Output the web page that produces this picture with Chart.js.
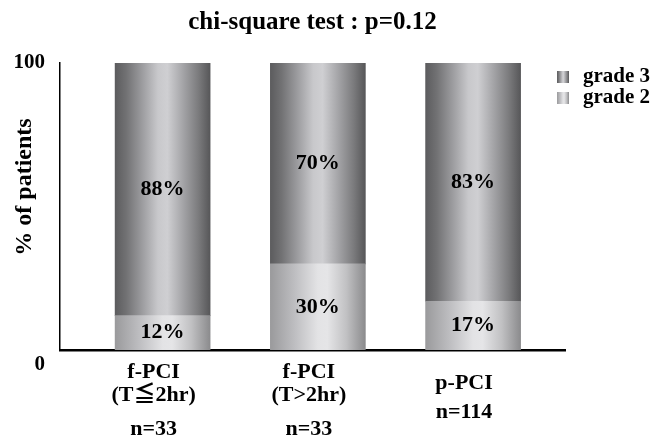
<!DOCTYPE html>
<html>
<head>
<meta charset="utf-8">
<script src="https://cdn.jsdelivr.net/npm/chart.js@4/dist/chart.umd.min.js"></script>
<style>
  html, body { margin: 0; padding: 0; background: #fff; }
  #wrap { width: 651px; height: 437px; }
</style>
</head>
<body>
<div id="wrap"><canvas id="chart" width="651" height="437"></canvas></div>
<script>
// ---- data ----
const groupNames   = ['f-PCI', 'f-PCI', 'p-PCI'];
const groupDetails = ['(T≦2hr)', '(T>2hr)', ''];
const groupSizes   = [33, 33, 114];
const grade3       = [88, 70, 83];
const grade2       = [12, 30, 17];
const seriesNames  = ['grade 3', 'grade 2'];
const yTicks       = [0, 100];
const titleText    = 'chi-square test : p=0.12';
const yTitleText   = '% of patients';

// ---- styling ----
const SERIF = '"Liberation Serif", "Times New Roman", "DejaVu Serif", "Noto Sans CJK JP", serif';
const BAR_W = 95;
const ROW = 5.75;            // sub-line unit used to space the category label rows
const LABEL_SHIFT = -0.058;  // category text sits slightly left of its bar

const shade3 = [[0, '#5c5c5e'], [0.12, '#727274'], [0.3, '#a0a0a3'], [0.45, '#c8c8cb'],
                [0.55, '#cfcfd2'], [0.7, '#a8a8ab'], [0.88, '#7a7a7c'], [1, '#575759']];
const shade2 = [[0, '#9a9a9c'], [0.25, '#bdbdc0'], [0.5, '#e3e3e5'], [0.6, '#e5e5e7'],
                [0.8, '#c1c1c3'], [1, '#8b8b8d']];

function gradientAcross(ctx2d, x0, x1, stops) {
  const g = ctx2d.createLinearGradient(x0, 0, x1, 0);
  stops.forEach(([o, c]) => g.addColorStop(o, c));
  return g;
}

function cylinderFill(stops) {
  const fallback = stops[Math.floor(stops.length / 2)][1];
  return (ctx) => {
    const xs = ctx.chart.scales.x;
    if (ctx.type !== 'data' || !xs || !ctx.chart.chartArea) return fallback;
    const cx = xs.getPixelForValue(ctx.parsed.x);
    if (!Number.isFinite(cx)) return fallback;
    return gradientAcross(ctx.chart.ctx, cx - BAR_W / 2, cx + BAR_W / 2, stops);
  };
}

function categoryLines(i) {
  const rows = groupDetails[i]
    ? [[0, groupNames[i]], [4, groupDetails[i]], [10, 'n=' + groupSizes[i]]]
    : [[2, groupNames[i]], [7, 'n=' + groupSizes[i]]];
  const lines = [];
  rows.forEach(([row, text]) => {
    while (lines.length < row) lines.push('');
    lines.push(text);
  });
  return lines;
}

const toPoints = (arr) => arr.map((v, i) => ({ x: i, y: v }));

// percentage text centred in each bar segment
const segmentLabels = {
  id: 'segmentLabels',
  afterDatasetsDraw(chart) {
    const c = chart.ctx;
    c.save();
    c.font = 'bold 22px ' + SERIF;
    c.fillStyle = '#000';
    c.textAlign = 'center';
    c.textBaseline = 'middle';
    chart.data.datasets.forEach((ds, di) => {
      chart.getDatasetMeta(di).data.forEach((bar, i) => {
        c.fillText(ds.data[i].y + '%', bar.x, (bar.y + bar.base) / 2);
      });
    });
    c.restore();
  }
};

// rotated y-axis caption
const yCaption = {
  id: 'yCaption',
  afterDraw(chart) {
    const c = chart.ctx;
    c.save();
    c.translate(25, 187);
    c.rotate(-Math.PI / 2);
    c.font = 'bold 24px ' + SERIF;
    c.fillStyle = '#000';
    c.textAlign = 'center';
    c.textBaseline = 'middle';
    c.fillText(yTitleText, 0, 0);
    c.restore();
  }
};

// key with shaded swatches
const shadedKey = {
  id: 'shadedKey',
  afterDraw(chart) {
    const c = chart.ctx;
    const entries = [[seriesNames[0], shade3], [seriesNames[1], shade2]];
    c.save();
    c.font = 'bold 21px ' + SERIF;
    c.textAlign = 'left';
    c.textBaseline = 'middle';
    entries.forEach(([name, stops], k) => {
      const cy = 77 + k * 21;
      c.fillStyle = gradientAcross(c, 557, 569, stops);
      c.fillRect(557, cy - 6, 12, 12);
      c.fillStyle = '#000';
      c.fillText(name, 583, cy);
    });
    c.restore();
  }
};

new Chart(document.getElementById('chart'), {
  type: 'bar',
  data: {
    datasets: [
      { label: seriesNames[1], data: toPoints(grade2), backgroundColor: cylinderFill(shade2),
        borderWidth: 0, barThickness: BAR_W },
      { label: seriesNames[0], data: toPoints(grade3), backgroundColor: cylinderFill(shade3),
        borderWidth: 0, barThickness: BAR_W }
    ]
  },
  options: {
    responsive: false,
    animation: false,
    devicePixelRatio: 1,
    layout: { padding: { left: 0, right: 86, top: 0, bottom: 0 } },
    plugins: {
      legend: { display: false },
      tooltip: { enabled: false },
      title: {
        display: true,
        text: titleText,
        fullSize: false,
        color: '#000',
        font: { family: SERIF, size: 25, weight: 'bold', lineHeight: 1.2 },
        padding: { top: 8, bottom: 25 }
      }
    },
    scales: {
      x: {
        type: 'linear',
        stacked: true,
        min: -0.661,
        max: 2.592,
        bounds: 'data',
        offset: false,
        grid: { display: false, drawTicks: false, offset: false },
        border: { display: true, color: '#000', width: 2.5 },
        afterBuildTicks: (scale) => {
          scale.ticks = groupNames.map((_, i) => ({ value: i + LABEL_SHIFT }));
        },
        afterFit: (scale) => { scale.height = 87; },
        ticks: {
          autoSkip: false,
          maxRotation: 0,
          minRotation: 0,
          padding: 19,
          color: '#000',
          font: { family: SERIF, size: 22, weight: 'bold', lineHeight: ROW + 'px' },
          callback: (value, index) => categoryLines(index)
        }
      },
      y: {
        stacked: true,
        min: 0,
        max: 100,
        grid: { display: false, drawTicks: false },
        border: { display: true, color: '#000', width: 1.5 },
        afterBuildTicks: (scale) => { scale.ticks = yTicks.map(v => ({ value: v })); },
        afterFit: (scale) => { scale.width = 60; },
        ticks: {
          padding: 15,
          color: '#000',
          font: { family: SERIF, size: 21, weight: 'bold', lineHeight: '30px' },
          callback: (value) => value === 0 ? ['', '0'] : String(value)
        }
      }
    }
  },
  plugins: [segmentLabels, yCaption, shadedKey]
});
</script>
</body>
</html>
